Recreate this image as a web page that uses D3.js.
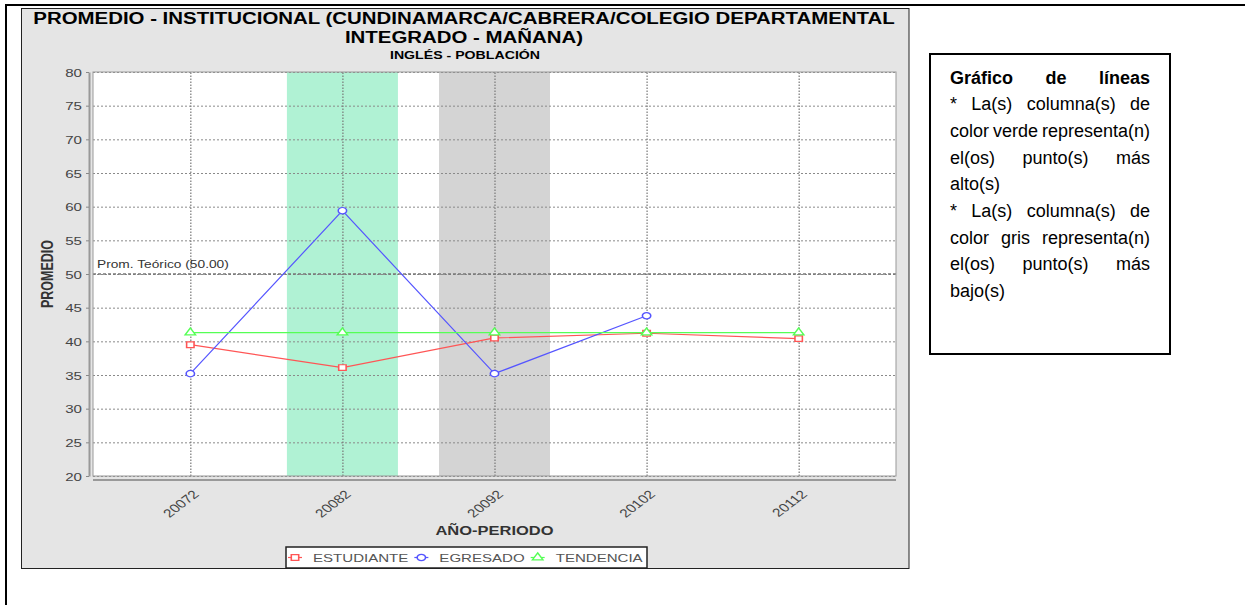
<!DOCTYPE html>
<html>
<head>
<meta charset="utf-8">
<script src="https://cdn.jsdelivr.net/npm/d3@7"></script>
<style>
    body { margin: 0; background: #fff; }
    text { font-family: "Liberation Sans", Arial, sans-serif; }
</style>
</head>
<body>
<div id="chart"></div>
<script>
// data
const categories = ["20072", "20082", "20092", "20102", "20112"];
const estudiante = [39.5, 36.1, 40.5, 41.2, 40.4];
const egresado = [35.2, 59.4, 35.2, 43.8, null];
const tendencia = [41.3, 41.3, 41.3, 41.3, 41.3];
const seriesNames = ["ESTUDIANTE", "EGRESADO", "TENDENCIA"];
const yTicks = [20, 25, 30, 35, 40, 45, 50, 55, 60, 65, 70, 75, 80];
const promTeorico = 50;
const highCols = ["20082"];
const lowCols = ["20092"];

const titleLines = ["PROMEDIO - INSTITUCIONAL (CUNDINAMARCA/CABRERA/COLEGIO DEPARTAMENTAL", "INTEGRADO - MAÑANA)"];
const subtitle = "INGLÉS - POBLACIÓN";
const noteLines = [
    ["Gráfico de líneas", true, true],
    ["* La(s) columna(s) de", false, true],
    ["color verde representa(n)", false, true],
    ["el(os) punto(s) más", false, true],
    ["alto(s)", false, false],
    ["* La(s) columna(s) de", false, true],
    ["color gris representa(n)", false, true],
    ["el(os) punto(s) más", false, true],
    ["bajo(s)", false, false]
];

// the source image is stretched sideways, so chart text and markers are too
const SX = 1.31;
const colors = ["#ff5555", "#5555ff", "#55ff55"];
const symbols = [d3.symbolSquare, d3.symbolCircle, d3.symbolTriangle];

const svg = d3.select("#chart").append("svg").attr("width", 1245).attr("height", 605);

// page frame
svg.append("line").attr("x1", 5).attr("x2", 1245).attr("y1", 5).attr("y2", 5).attr("stroke", "#000").attr("stroke-width", 2);
svg.append("line").attr("x1", 6).attr("x2", 6).attr("y1", 4).attr("y2", 605).attr("stroke", "#000").attr("stroke-width", 2);

// chart panel
svg.append("rect").attr("x", 21.5).attr("y", 8.5).attr("width", 887.5).attr("height", 560)
    .attr("fill", "#e5e5e5").attr("stroke", "#222");

function stext(g, x, y, str, size, opts = {}) {
    return g.append("text")
        .attr("transform", `translate(${x},${y}) scale(${SX},1)` + (opts.rotate ? ` rotate(${opts.rotate})` : ""))
        .attr("text-anchor", opts.anchor || "middle")
        .attr("font-size", size)
        .attr("font-weight", opts.bold ? "bold" : null)
        .attr("fill", opts.fill || "#000")
        .text(str);
}

stext(svg, 464, 24, titleLines[0], 15.6, { bold: true });
stext(svg, 464, 43, titleLines[1], 15.6, { bold: true });
stext(svg, 465, 59, subtitle, 10.8, { bold: true });

const plotLeft = 93, plotRight = 896, plotTop = 72, plotBottom = 476;
const x = d3.scalePoint().domain(categories).range([plotLeft, plotRight]).padding(0.64);
const y = d3.scaleLinear().domain([20, 80]).range([plotBottom, plotTop]);
const bandW = x.step() * 0.73;
const plotW = plotRight - plotLeft, plotH = plotBottom - plotTop;

const plot = svg.append("g");
plot.append("rect").attr("x", plotLeft).attr("y", plotTop).attr("width", plotW).attr("height", plotH).attr("fill", "#fff");

plot.selectAll(".hi").data(highCols).join("rect")
    .attr("x", d => x(d) - bandW / 2).attr("y", plotTop).attr("width", bandW).attr("height", plotH)
    .attr("fill", "#b0f2d4");
plot.selectAll(".lo").data(lowCols).join("rect")
    .attr("x", d => x(d) - bandW / 2).attr("y", plotTop).attr("width", bandW).attr("height", plotH)
    .attr("fill", "#d4d4d4");

// grid
const gridY = plot.append("g").attr("transform", `translate(${plotLeft},0)`)
    .call(d3.axisLeft(y).tickValues(yTicks).tickSize(-plotW).tickFormat(""));
gridY.select(".domain").remove();
gridY.selectAll("line").attr("stroke", "#8a8a8a").attr("stroke-dasharray", "2,2").attr("stroke-width", 1);

const gridX = plot.append("g").attr("transform", `translate(0,${plotBottom})`)
    .call(d3.axisBottom(x).tickSize(-plotH).tickFormat(""));
gridX.select(".domain").remove();
gridX.selectAll("line").attr("stroke", "#777").attr("stroke-dasharray", "1.5,1.5").attr("stroke-width", 1.2);

// theoretical mean marker
plot.append("line").attr("x1", plotLeft).attr("x2", plotRight).attr("y1", y(promTeorico)).attr("y2", y(promTeorico))
    .attr("stroke", "#777").attr("stroke-width", 1.6).attr("stroke-dasharray", "3,2");
stext(plot, plotLeft + 4, y(promTeorico) - 6, "Prom. Teórico (" + promTeorico.toFixed(2) + ")", 10.5, { anchor: "start", fill: "#333" });

plot.append("rect").attr("x", plotLeft).attr("y", plotTop).attr("width", plotW).attr("height", plotH)
    .attr("fill", "none").attr("stroke", "#999");

// axes
const yAxis = svg.append("g").attr("transform", `translate(89,0)`)
    .call(d3.axisLeft(y).tickValues(yTicks).tickSize(3).tickSizeOuter(0));
yAxis.select(".domain").attr("stroke", "#999").attr("stroke-width", 2);
yAxis.selectAll(".tick line").attr("stroke", "#888");
yAxis.selectAll(".tick text")
    .attr("x", null).attr("dy", "0.36em")
    .attr("transform", `translate(-7,0) scale(${SX},1)`)
    .attr("font-size", 11.5).attr("fill", "#444")
    .style("font-family", "'Liberation Sans', Arial, sans-serif");

const xAxis = svg.append("g").attr("transform", `translate(0,480)`)
    .call(d3.axisBottom(x).tickSize(0).tickSizeOuter(0).tickFormat(""));
xAxis.select(".domain").attr("stroke", "#999").attr("stroke-width", 2).attr("d", `M${plotLeft},0H${plotRight}`);
xAxis.selectAll(".tick").each(function (d) {
    stext(d3.select(this), 9, 15, d, 11.8, { anchor: "end", rotate: -45, fill: "#444" });
});

stext(svg, (plotLeft + plotRight) / 2, 535, "AÑO-PERIODO", 12.6, { bold: true, fill: "#333" });
stext(svg, 53, (plotTop + plotBottom) / 2, "PROMEDIO", 12.5, { bold: true, fill: "#333", rotate: -90 });

// series
const seriesData = [estudiante, egresado, tendencia];
const line = d3.line()
    .defined(d => d.v != null)
    .x(d => x(d.c)).y(d => y(d.v));

seriesData.forEach((vals, i) => {
    const pts = categories.map((c, j) => ({ c: c, v: vals[j] }));
    plot.append("path").datum(pts)
        .attr("d", line).attr("fill", "none").attr("stroke", colors[i]).attr("stroke-width", 1.2);
    plot.selectAll(".m" + i).data(pts.filter(d => d.v != null)).join("path")
        .attr("transform", d => `translate(${x(d.c)},${y(d.v)}) scale(${SX},1)`)
        .attr("d", d3.symbol(symbols[i], i == 2 ? 28 : 32))
        .attr("fill", "#fff").attr("stroke", colors[i]).attr("stroke-width", 1.2);
});

// legend
const legend = svg.append("g");
legend.append("rect").attr("x", 286).attr("y", 547).attr("width", 361).attr("height", 21)
    .attr("fill", "#fff").attr("stroke", "#222").attr("stroke-width", 1.5);
let lx = 288;
seriesNames.forEach((name, i) => {
    legend.append("line").attr("x1", lx).attr("x2", lx + 14).attr("y1", 557.5).attr("y2", 557.5)
        .attr("stroke", colors[i]).attr("stroke-width", 1.2);
    legend.append("path")
        .attr("transform", `translate(${lx + 7},557.5) scale(${SX},1)`)
        .attr("d", d3.symbol(symbols[i], i == 2 ? 28 : 32))
        .attr("fill", "#fff").attr("stroke", colors[i]).attr("stroke-width", 1.2);
    const t = stext(legend, lx + 25, 562, name, 11.5, { anchor: "start", fill: "#555" });
    lx += 25 + t.node().getComputedTextLength() * SX + 6;
});

// note box on the right
const note = svg.append("g");
note.append("rect").attr("x", 930).attr("y", 54).attr("width", 240).attr("height", 300)
    .attr("fill", "#fff").attr("stroke", "#000").attr("stroke-width", 2);
const noteLeft = 950, noteRight = 1150;
noteLines.forEach(([str, bold, justify], i) => {
    const words = str.split(" ");
    const tg = note.append("g");
    const ws = words.map(w => tg.append("text").attr("y", 83.5 + 26.7 * i).attr("font-size", 18)
        .attr("font-weight", bold ? "bold" : null).attr("fill", "#000").text(w));
    const widths = ws.map(t => t.node().getComputedTextLength());
    let gap = 5;
    if (justify && words.length > 1) {
        gap = (noteRight - noteLeft - d3.sum(widths)) / (words.length - 1);
    }
    let cx = noteLeft;
    ws.forEach((t, k) => { t.attr("x", cx); cx += widths[k] + gap; });
});
</script>
</body>
</html>
